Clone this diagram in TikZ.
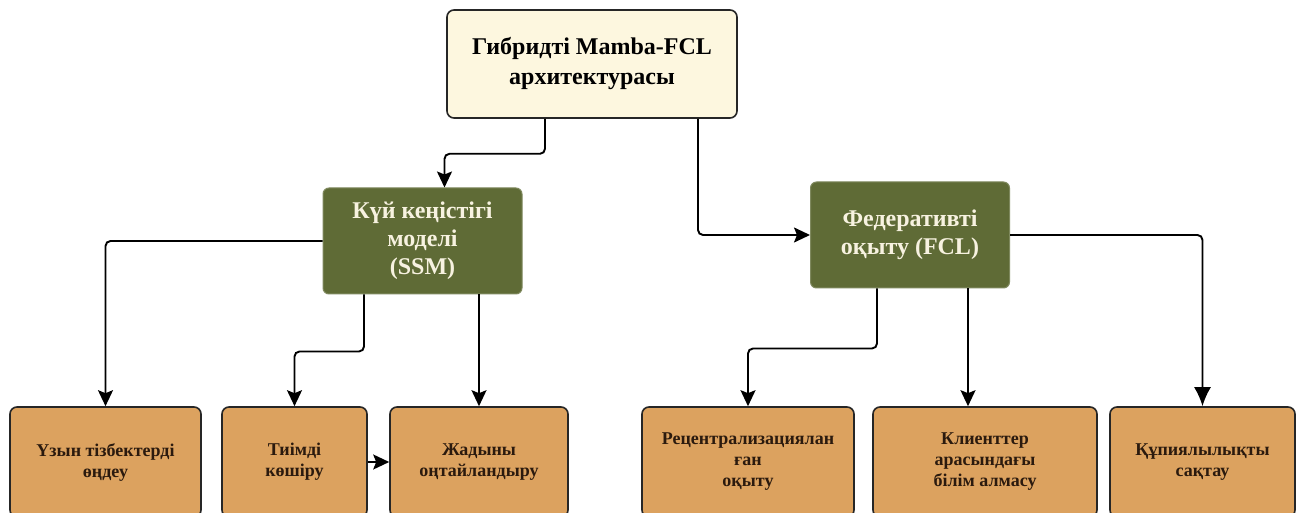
\documentclass[tikz,border=0pt]{standalone}
\usepackage{fontspec}
\setmainfont{Liberation Serif}
\usetikzlibrary{arrows.meta}
\definecolor{creambox}{HTML}{FDF7DF}
\definecolor{olivebox}{HTML}{5F6B36}
\definecolor{olivetext}{HTML}{F7F2E0}
\definecolor{leafbox}{HTML}{DCA25F}
\definecolor{leaftext}{HTML}{2B1A0E}

\begin{document}
\begin{tikzpicture}[x=1pt,y=-1pt,
		rootbox/.style={draw=black!85,line width=1.6pt,fill=creambox,rounded corners=7pt,
			minimum width=290pt,minimum height=108pt,align=center,
			font=\fontsize{24}{30}\selectfont\bfseries},
		midbox/.style={draw=olivebox!80,line width=1pt,fill=olivebox,text=olivetext,rounded corners=6pt,
			minimum width=199pt,minimum height=106pt,align=center,
			font=\fontsize{24}{28}\selectfont\bfseries},
		leaf/.style={draw=black!85,line width=1.6pt,fill=leafbox,text=leaftext,rounded corners=7pt,
			minimum height=110pt,align=center,
			font=\fontsize{18}{21}\selectfont\bfseries},
		arr/.style={line width=1.9pt,rounded corners=5pt,-{Stealth[length=16pt,width=15pt,inset=3pt]}},
		bigarr/.style={line width=1.9pt,rounded corners=5pt,-{Latex[length=19pt,width=17pt]}}]
		\fill[white] (0,0) rectangle (1302,513);
		\useasboundingbox (0,0) rectangle (1302,513);

		\node[rootbox] (top) at (592,64) {Гибридті Mamba-FCL\\архитектурасы};
		\node[midbox] (ssm) at (422.5,241) {Күй кеңістігі\\моделі\\(SSM)};
		\node[midbox] (fcl) at (910,235) {Федеративті\\оқыту (FCL)};

		\node[leaf,minimum width=191pt] (b1) at (105.5,462) {Үзын тізбектерді\\өңдеу};
		\node[leaf,minimum width=145pt] (b2) at (294.5,462) {Тиімді\\көшіру};
		\node[leaf,minimum width=178pt] (b3) at (479,462) {Жадыны\\оңтайландыру};
		\node[leaf,minimum width=212pt] (b4) at (748,462) {Рецентрализациялан\\ған\\оқыту};
		\node[leaf,minimum width=224pt] (b5) at (985,462) {Клиенттер\\арасындағы\\білім алмасу};
		\node[leaf,minimum width=185pt] (b6) at (1202.5,462) {Құпиялылықты\\сақтау};

		\coordinate (b5in) at ([xshift=-17pt]b5.north);

		\draw[arr] ([xshift=-47pt]top.south) -- ++(0,35) -| ([xshift=22pt]ssm.north);
		\draw[arr] ([xshift=106pt]top.south) |- (fcl.west);

		\draw[arr] (ssm.west) -| (b1.north);
		\draw[arr] ([xshift=-58.5pt]ssm.south) -- ++(0,57) -| (b2.north);
		\draw[arr] (ssm.south -| b3.north) -- (b3.north);
		\draw[arr] (b2.east) -- (b3.west);

		\draw[arr] ([xshift=-33pt]fcl.south) -- ++(0,60) -| (b4.north);
		\draw[arr] (b5in |- fcl.south) -- (b5in);
		\draw[bigarr] (fcl.east) -| (b6.north);
	\end{tikzpicture}
\end{document}
